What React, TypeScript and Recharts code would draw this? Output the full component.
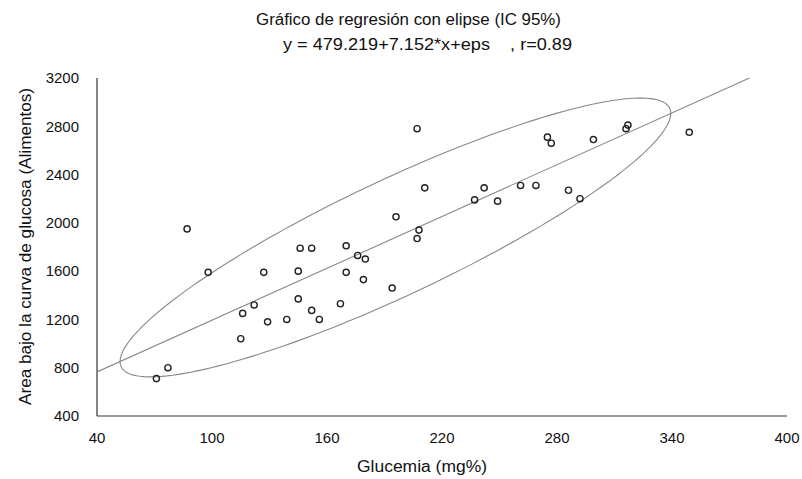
import { ScatterChart, Scatter, XAxis, YAxis } from "recharts";

const W = 802;
const H = 479;

const X_TICKS = [40, 100, 160, 220, 280, 340, 400];
const Y_TICKS = [400, 800, 1200, 1600, 2000, 2400, 2800, 3200];

// glucemia (mg%) of each subject
const GLUCEMIA = [
  87, 98, 77, 71, 116, 122, 115, 127, 129, 139, 145, 145, 146, 152, 152, 156,
  167, 170, 170, 176, 180, 179, 207, 211, 196, 208, 207, 194, 237, 242, 249,
  261, 269, 286, 292, 275, 277, 299, 317, 316, 349,
];
// area under the glucose curve (Alimentos)
const AREA = [
  1950, 1590, 800, 710, 1250, 1320, 1040, 1590, 1180, 1200, 1600, 1370, 1790,
  1790, 1275, 1200, 1330, 1590, 1810, 1730, 1700, 1530, 2780, 2290, 2050, 1940,
  1870, 1460, 2190, 2290, 2180, 2310, 2310, 2270, 2200, 2710, 2660, 2690, 2810,
  2780, 2750,
];

// regression y = a + b*x, r
const INTERCEPT = 479.219;
const SLOPE = 7.152;
const R = 0.89;

// 95% ellipse: centre and standard deviations
const MEAN_X = 195.7;
const MEAN_Y = 1879;
const SD_X = 58.7;
const SD_Y = 471.8;
const K95 = 2.4477;

const points = GLUCEMIA.map((x, i) => ({ x, y: AREA[i] }));

const regLine = [
  { x: 40, y: INTERCEPT + SLOPE * 40 },
  { x: (3200 - INTERCEPT) / SLOPE, y: 3200 },
];

const ellipse: { x: number; y: number }[] = [];
for (let i = 0; i <= 180; i++) {
  const t = (i / 180) * Math.PI * 2;
  ellipse.push({
    x: MEAN_X + K95 * SD_X * Math.cos(t),
    y:
      MEAN_Y +
      K95 * SD_Y * (R * Math.cos(t) + Math.sqrt(1 - R * R) * Math.sin(t)),
  });
}

const FONT = "'Liberation Sans', Arial, sans-serif";

const Dot = (props: any) => (
  <circle
    cx={props.cx}
    cy={props.cy}
    r={3.1}
    fill="none"
    stroke="#222"
    strokeWidth={1.4}
  />
);

const NoDot = () => <g />;

export default function App() {
  return (
    <div style={{ position: "relative", width: W, height: H, background: "#fff" }}>
      <style>{`body{margin:0;background:#fff}`}</style>
      <ScatterChart
        width={W}
        height={H}
        margin={{ top: 78, right: 15, left: 37, bottom: 33 }}
      >
        <XAxis
          type="number"
          dataKey="x"
          domain={[40, 400]}
          ticks={X_TICKS}
          allowDataOverflow
          tickLine={false}
          axisLine={{ stroke: "#333", strokeWidth: 1.2 }}
          tick={{ fill: "#111", fontSize: 15, fontFamily: FONT }}
          tickMargin={10}
          height={30}
        />
        <XAxis
          xAxisId="top"
          orientation="top"
          type="number"
          domain={[40, 400]}
          tick={false}
          tickLine={false}
          axisLine={{ stroke: "#aaa" }}
          height={0}
        />
        <YAxis
          type="number"
          dataKey="y"
          domain={[400, 3200]}
          ticks={Y_TICKS}
          allowDataOverflow
          tickLine={false}
          axisLine={{ stroke: "#333", strokeWidth: 1.2 }}
          tick={{ fill: "#111", fontSize: 15, fontFamily: FONT }}
          tickMargin={12}
          width={60}
        />
        <YAxis
          yAxisId="right"
          orientation="right"
          type="number"
          domain={[400, 3200]}
          tick={false}
          tickLine={false}
          axisLine={{ stroke: "#777" }}
          width={0}
        />
        <Scatter
          data={ellipse}
          line={{ stroke: "#888", strokeWidth: 1.1 }}
          lineType="joint"
          shape={NoDot}
          isAnimationActive={false}
        />
        <Scatter
          data={regLine}
          line={{ stroke: "#888", strokeWidth: 1.1 }}
          lineType="joint"
          shape={NoDot}
          isAnimationActive={false}
        />
        <Scatter data={points} shape={Dot} isAnimationActive={false} />
      </ScatterChart>
      <svg
        width={W}
        height={H}
        style={{ position: "absolute", left: 0, top: 0, pointerEvents: "none" }}
      >
        <text
          x={256}
          y={25}
          fontSize={16}
          fontFamily={FONT}
          fill="#111"
          textLength={305}
          lengthAdjust="spacingAndGlyphs"
        >
          Gráfico de regresión con elipse (IC 95%)
        </text>
        <text
          x={283}
          y={50}
          fontSize={16}
          fontFamily={FONT}
          fill="#111"
          textLength={289}
          lengthAdjust="spacingAndGlyphs"
          style={{ whiteSpace: "pre" }}
        >
          {"y = 479.219+7.152*x+eps    , r=0.89"}
        </text>
        <text
          x={357}
          y={472}
          fontSize={16}
          fontFamily={FONT}
          fill="#111"
          textLength={130}
          lengthAdjust="spacingAndGlyphs"
        >
          Glucemia (mg%)
        </text>
        <text
          x={0}
          y={0}
          transform="translate(31,405) rotate(-90)"
          fontSize={16}
          fontFamily={FONT}
          fill="#111"
          textLength={317}
          lengthAdjust="spacingAndGlyphs"
        >
          Area bajo la curva de glucosa (Alimentos)
        </text>
      </svg>
    </div>
  );
}
